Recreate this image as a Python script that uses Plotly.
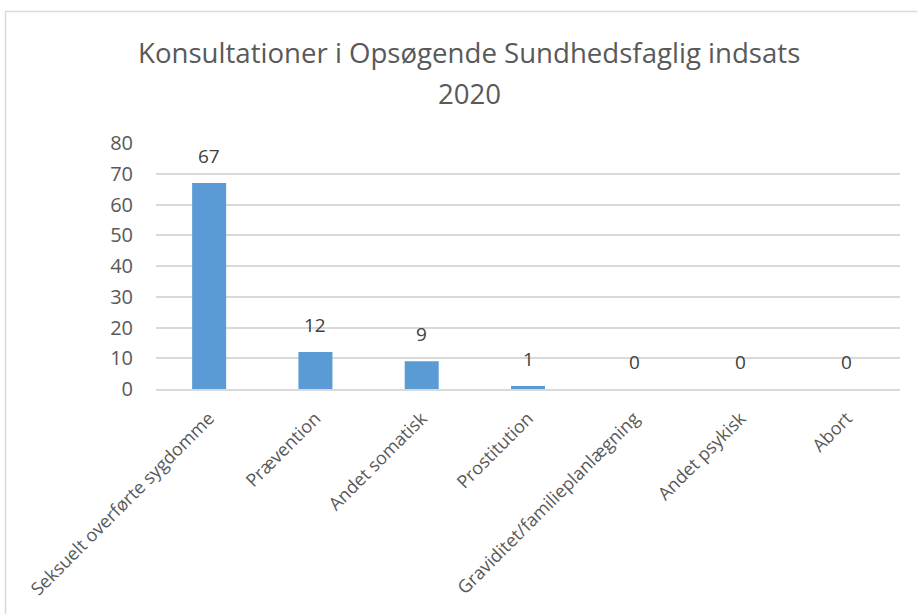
import plotly.graph_objects as go

categories = ["Seksuelt overførte sygdomme", "Prævention", "Andet somatisk", "Prostitution",
              "Graviditet/familieplanlægning", "Andet psykisk", "Abort"]
values = [67, 12, 9, 1, 0, 0, 0]
y_ticks = [0, 10, 20, 30, 40, 50, 60, 70, 80]
title_lines = ["Konsultationer i Opsøgende Sundhedsfaglig indsats", "2020"]

W, H = 917, 614
L, R, T, B = 156, 17, 143, 225
pw, ph = W - L - R, H - T - B

def px_x(x):
    return (x - L) / pw

def px_y(y):
    return (H - B - y) / ph

font = "Open Sans"
grey = "#595959"

fig = go.Figure()
fig.add_trace(go.Bar(x=categories, y=values, marker=dict(color="#5B9BD5", line=dict(width=0)),
                     hoverinfo="x+y"))

annotations = []
for c, v in zip(categories, values):
    annotations.append(dict(x=c, y=v, xref="x", yref="y", text=str(v), showarrow=False,
                            yanchor="bottom", yshift=12,
                            font=dict(family=font, size=19, color="#404040")))
for i, line in enumerate(title_lines):
    annotations.append(dict(x=px_x(469), y=px_y(52 + 41 * i), xref="paper", yref="paper",
                            text=line, showarrow=False, xanchor="center", yanchor="middle",
                            font=dict(family=font, size=27.6, color=grey)))

border = (f"M {px_x(5.5)} {px_y(H + 10)} L {px_x(5.5)} {px_y(11.5)} L {px_x(W + 10)} {px_y(11.5)}")

fig.update_layout(
    width=W, height=H,
    margin=dict(l=L, r=R, t=T, b=B, autoexpand=False),
    paper_bgcolor="white", plot_bgcolor="white",
    showlegend=False,
    bargap=0.68,
    annotations=annotations,
    shapes=[dict(type="path", path=border, xref="paper", yref="paper",
                 line=dict(color="#D9D9D9", width=1.5))],
    xaxis=dict(tickangle=-45, tickfont=dict(family=font, size=18, color=grey),
               showline=True, linecolor="#D9D9D9", linewidth=1.5, ticks="", showgrid=False,
               ticklabelstandoff=10),
    yaxis=dict(range=[0, 80], tickvals=y_ticks, tickfont=dict(family=font, size=20, color=grey),
               showgrid=True, gridcolor="#D9D9D9", gridwidth=1.5, zeroline=False,
               showline=False, ticks="", ticklabelstandoff=22),
)

fig.write_html("out.html", config={"displayModeBar": False},
               post_script="document.body.style.margin='0';")
